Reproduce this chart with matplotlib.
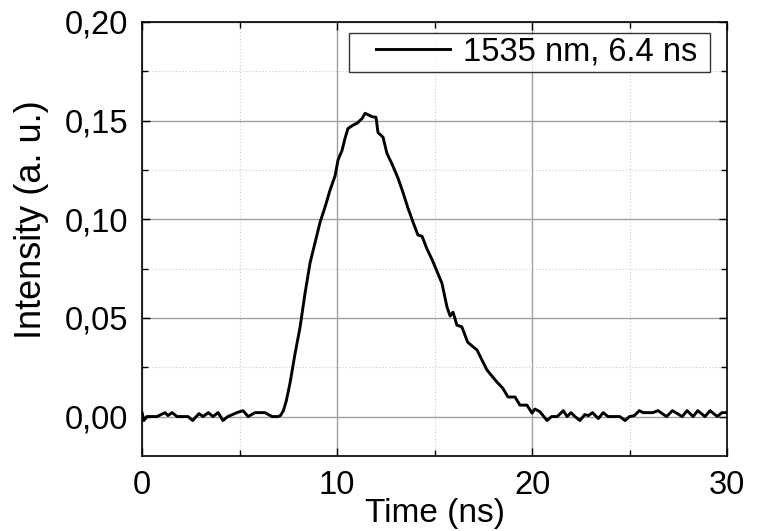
import matplotlib
matplotlib.use("Agg")
import matplotlib.pyplot as plt
from matplotlib.ticker import MultipleLocator, FuncFormatter
from matplotlib.legend_handler import HandlerLine2D

# pulse trace
time_ns = [0.0, 0.1, 0.25, 0.77, 1.18, 1.33, 1.54, 1.8, 2.36, 2.6, 2.92, 3.13, 3.4, 3.64,
           3.9, 4.15, 4.4, 4.87, 5.18, 5.44, 5.8, 6.3, 6.67, 6.97, 7.1, 7.25, 7.4, 7.59,
           7.85, 8.1, 8.36, 8.62, 8.87, 9.13, 9.38, 9.64, 9.9, 10.05, 10.26, 10.41, 10.56,
           10.82, 11.03, 11.28, 11.44, 11.59, 11.79, 12.0, 12.1, 12.36, 12.56, 12.82, 13.13,
           13.38, 13.64, 13.9, 14.15, 14.36, 14.6, 14.9, 15.38, 15.64, 15.8, 15.95, 16.15,
           16.4, 16.7, 17.18, 17.69, 18.2, 18.5, 18.77, 19.13, 19.38, 19.74, 20.0, 20.15,
           20.4, 20.77, 21.0, 21.3, 21.6, 21.8, 22.0, 22.2, 22.46, 22.7, 22.9, 23.1, 23.4,
           23.65, 23.9, 24.5, 24.77, 25.0, 25.25, 25.5, 25.7, 26.2, 26.46, 26.9, 27.2, 27.7,
           27.95, 28.26, 28.5, 28.87, 29.13, 29.5, 29.74, 30.0]
intensity = [0.002, -0.002, 0.0, 0.0, 0.002, 0.0005, 0.002, 0.0, 0.0, -0.002, 0.0015, 0.0,
             0.002, 0.0, 0.002, -0.002, 0.0, 0.002, 0.003, 0.0, 0.002, 0.002, 0.0, 0.0,
             0.0005, 0.003, 0.008, 0.017, 0.032, 0.045, 0.0625, 0.078, 0.088, 0.0985, 0.106,
             0.1147, 0.122, 0.13, 0.135, 0.141, 0.146, 0.1477, 0.1487, 0.151, 0.1537, 0.153,
             0.152, 0.1517, 0.144, 0.1416, 0.1334, 0.128, 0.1208, 0.1137, 0.1056, 0.0985,
             0.092, 0.0914, 0.0853, 0.079, 0.0676, 0.0555, 0.051, 0.0529, 0.0463, 0.0455,
             0.0377, 0.0337, 0.0236, 0.0175, 0.0144, 0.0099, 0.0099, 0.0058, 0.0058, 0.0018,
             0.0038, 0.0025, -0.002, 0.0, 0.0, 0.003, 0.0, 0.002, 0.0, -0.002, 0.001, 0.0005,
             0.002, -0.001, 0.002, 0.0, 0.0, -0.002, 0.0, 0.0005, 0.003, 0.002, 0.002, 0.003,
             0.0, 0.003, 0.0, 0.003, 0.0, 0.003, 0.0, 0.003, 0.0, 0.002, 0.002]

x_ticks = [0, 10, 20, 30]
y_ticks = [0.00, 0.05, 0.10, 0.15, 0.20]
legend_label = "1535 nm, 6.4 ns "

plt.rcParams["font.family"] = ["Liberation Sans", "DejaVu Sans"]
fs = 23.5

fig = plt.figure(figsize=(7.57, 5.31), dpi=100)
ax = fig.add_axes([0.1876, 0.1412, 0.7728, 0.8174])

line, = ax.plot(time_ns, intensity, color="black", lw=2.1, label=legend_label, zorder=3)

ax.set_xlim(0, 30)
ax.set_ylim(-0.02, 0.20)
ax.set_xticks(x_ticks)
ax.set_yticks(y_ticks)
ax.xaxis.set_minor_locator(MultipleLocator(5))
ax.yaxis.set_minor_locator(MultipleLocator(0.025))
ax.yaxis.set_major_formatter(FuncFormatter(lambda v, p: f"{v:.2f}".replace(".", ",")))

ax.grid(which="major", color="#a0a0a0", lw=1.0, ls="-")
ax.grid(which="minor", color="#cccccc", lw=0.8, ls=(0, (1, 2)))
ax.set_axisbelow(True)

ax.tick_params(which="both", direction="in", top=True, right=True, labelsize=fs, width=1.0)
ax.tick_params(which="major", length=6)
ax.tick_params(axis="y", which="major", pad=10)
ax.tick_params(axis="x", which="major", pad=10)
ax.tick_params(which="minor", length=4)
for s in ax.spines.values():
    s.set_linewidth(1.2)

ax.set_xlabel("Time (ns)", fontsize=24, labelpad=-2)
ax.set_ylabel("Intensity (a. u.)", fontsize=26)
ax.yaxis.set_label_coords(-0.159, 0.544)

leg = ax.legend(loc="upper right", bbox_to_anchor=(0.971, 0.975), borderaxespad=0,
                fontsize=fs, frameon=True, fancybox=False, numpoints=2,
                handler_map={line: HandlerLine2D(marker_pad=0.7)},
                handlelength=3.67, handletextpad=-0.3, borderpad=0.12)
leg.get_frame().set_edgecolor("black")
leg.get_frame().set_linewidth(1.0)

fig.savefig("out.png", dpi=100)
